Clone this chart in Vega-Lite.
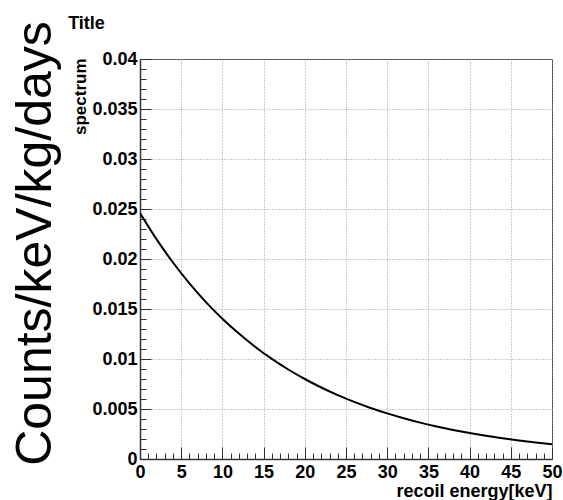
{
  "$schema": "https://vega.github.io/schema/vega-lite/v6.json",
  "width": 412,
  "height": 400,
  "autosize": {"type": "none"},
  "padding": {"left": 140, "top": 59, "right": 11, "bottom": 41},
  "background": "white",
  "config": {
    "view": {"stroke": "#444", "strokeWidth": 1},
    "axis": {
      "labelFont": "Liberation Sans",
      "labelFontWeight": "bold",
      "labelFontSize": 18,
      "labelColor": "black",
      "titleFont": "Liberation Sans",
      "titleFontWeight": "bold",
      "titleColor": "black",
      "domainColor": "#333",
      "domainWidth": 1.5,
      "tickColor": "#333",
      "tickWidth": 1,
      "labelOverlap": false,
      "labelFlush": false
    }
  },
  "data": {
    "values": [
      {"energy": 0, "spectrum": 0.02460},
      {"energy": 2, "spectrum": 0.02199},
      {"energy": 4, "spectrum": 0.01965},
      {"energy": 6, "spectrum": 0.01756},
      {"energy": 8, "spectrum": 0.01569},
      {"energy": 10, "spectrum": 0.01403},
      {"energy": 12, "spectrum": 0.01254},
      {"energy": 14, "spectrum": 0.01120},
      {"energy": 16, "spectrum": 0.01001},
      {"energy": 18, "spectrum": 0.00895},
      {"energy": 20, "spectrum": 0.00800},
      {"energy": 22, "spectrum": 0.00715},
      {"energy": 24, "spectrum": 0.00639},
      {"energy": 26, "spectrum": 0.00571},
      {"energy": 28, "spectrum": 0.00510},
      {"energy": 30, "spectrum": 0.00456},
      {"energy": 32, "spectrum": 0.00408},
      {"energy": 34, "spectrum": 0.00364},
      {"energy": 36, "spectrum": 0.00325},
      {"energy": 38, "spectrum": 0.00291},
      {"energy": 40, "spectrum": 0.00260},
      {"energy": 42, "spectrum": 0.00232},
      {"energy": 44, "spectrum": 0.00208},
      {"energy": 46, "spectrum": 0.00186},
      {"energy": 48, "spectrum": 0.00166},
      {"energy": 50, "spectrum": 0.00148}
    ]
  },
  "layer": [
    {
      "mark": {"type": "line", "color": "black", "strokeWidth": 2, "interpolate": "monotone", "clip": true},
      "encoding": {
        "x": {
          "field": "energy",
          "type": "quantitative",
          "scale": {"domain": [0, 50], "nice": false},
          "axis": {
            "orient": "bottom",
            "title": "recoil energy[keV]",
            "titleFontSize": 18,
            "titleAlign": "right",
            "titleBaseline": "alphabetic",
            "titleX": 412,
            "titleY": 37,
            "values": [0,1,2,3,4,5,6,7,8,9,10,11,12,13,14,15,16,17,18,19,20,21,22,23,24,25,26,27,28,29,30,31,32,33,34,35,36,37,38,39,40,41,42,43,44,45,46,47,48,49,50],
            "labelExpr": "datum.value % 5 === 0 ? datum.label : ''",
            "labelPadding": 16,
            "tickSize": {"condition": {"test": "datum.value % 5 === 0", "value": -12}, "value": -6},
            "grid": true,
            "gridColor": "#999",
            "gridDash": [1, 2],
            "gridWidth": 1,
            "gridOpacity": {"condition": {"test": "datum.value % 5 === 0", "value": 1}, "value": 0}
          }
        },
        "y": {
          "field": "spectrum",
          "type": "quantitative",
          "scale": {"domain": [0, 0.04], "nice": false},
          "axis": {
            "orient": "left",
            "title": "spectrum",
            "titleFontSize": 17,
            "titleAngle": 270,
            "titleAlign": "right",
            "titleBaseline": "alphabetic",
            "titleX": -55,
            "titleY": -1,
            "format": "~g",
            "values": [0,0.001,0.002,0.003,0.004,0.005,0.006,0.007,0.008,0.009,0.01,0.011,0.012,0.013,0.014,0.015,0.016,0.017,0.018,0.019,0.02,0.021,0.022,0.023,0.024,0.025,0.026,0.027,0.028,0.029,0.03,0.031,0.032,0.033,0.034,0.035,0.036,0.037,0.038,0.039,0.04],
            "labelExpr": "round(datum.value*1000) % 5 === 0 ? datum.label : ''",
            "labelPadding": 14,
            "tickSize": {"condition": {"test": "round(datum.value*1000) % 5 === 0", "value": -11}, "value": -6},
            "grid": true,
            "gridColor": "#999",
            "gridDash": [1, 2],
            "gridWidth": 1,
            "gridOpacity": {"condition": {"test": "round(datum.value*1000) % 5 === 0", "value": 1}, "value": 0}
          }
        }
      }
    },
    {
      "mark": {"type": "line", "strokeOpacity": 0},
      "encoding": {
        "x": {
          "field": "energy",
          "type": "quantitative",
          "axis": {
            "orient": "top",
            "title": "Title",
            "titleFontSize": 18,
            "titleX": -54,
            "titleY": -36,
            "titleAlign": "center",
            "titleBaseline": "middle",
            "titleAngle": 0,
            "labels": false,
            "ticks": false,
            "domain": false,
            "grid": false
          }
        },
        "y": {
          "field": "spectrum",
          "type": "quantitative",
          "axis": {
            "orient": "right",
            "title": "Counts/keV/kg/days",
            "titleFont": "Liberation Sans",
            "titleFontSize": 50,
            "titleFontWeight": "normal",
            "titleAngle": 270,
            "titleAlign": "center",
            "titleBaseline": "alphabetic",
            "titleX": -502,
            "titleY": 184,
            "labels": false,
            "ticks": false,
            "domain": false,
            "grid": false
          }
        }
      }
    }
  ],
  "resolve": {"axis": {"x": "independent", "y": "independent"}}
}
